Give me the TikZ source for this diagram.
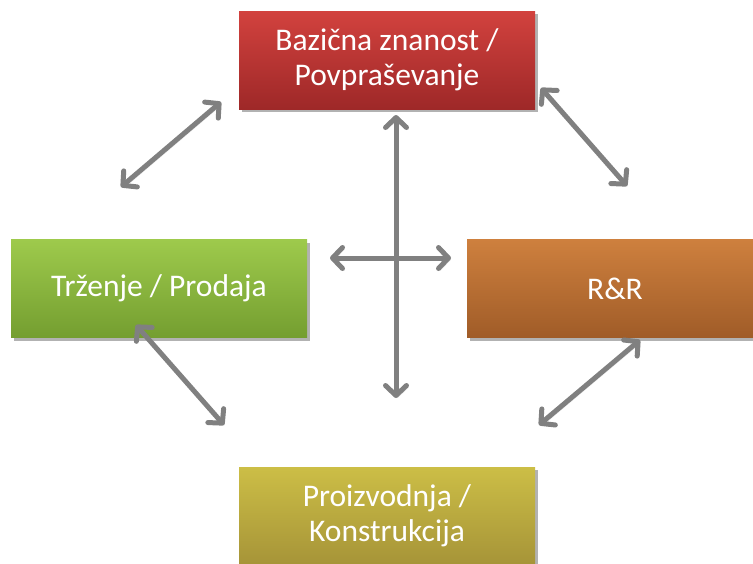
\documentclass[tikz,border=0pt]{standalone}
\usepackage{fontspec}
\setmainfont{Carlito}
\usetikzlibrary{arrows.meta,shadows}
\definecolor{arrgray}{RGB}{128,128,128}
\tikzset{
  box/.style={minimum width=296pt, minimum height=98pt, inner sep=0pt, align=center,
    text=white, font=\fontsize{31.5}{35}\selectfont, shading angle=0,
    drop shadow={shadow xshift=3pt, shadow yshift=-3pt, opacity=0.3, fill=black}},
  redbox/.style={box, top color={rgb,255:red,210;green,66;blue,62}, bottom color={rgb,255:red,158;green,40;blue,40}},
  greenbox/.style={box, top color={rgb,255:red,158;green,202;blue,76}, bottom color={rgb,255:red,116;green,158;blue,48}},
  orangebox/.style={box, top color={rgb,255:red,206;green,128;blue,62}, bottom color={rgb,255:red,160;green,92;blue,40}},
  olivebox/.style={box, top color={rgb,255:red,204;green,190;blue,70}, bottom color={rgb,255:red,166;green,148;blue,56}},
  dbl/.style={draw=arrgray, line width=5pt, line cap=round, line join=round,
    {Straight Barb[length=10pt,width=21pt,line cap=round,line join=round]}-{Straight Barb[length=10pt,width=21pt,line cap=round,line join=round]},
    preaction={draw=black!50, opacity=0.15, transform canvas={xshift=2pt,yshift=-2pt}}}
}
\begin{document}
\begin{tikzpicture}[x=1pt,y=-1pt]
\useasboundingbox (0,0) rectangle (753,563);
\clip (0,0) rectangle (753,563);
\node[redbox] (top) at (387,60) {Bazična znanost /\\Povpraševanje};
\node[greenbox] (left) at (159,288.5) {Trženje / Prodaja};
\node[orangebox] (right) at (615,288.5) {R\&R};
\node[olivebox] (bot) at (387,516) {Proizvodnja /\\Konstrukcija};
\coordinate (v1) at (396,115);
\coordinate (v2) at (396,398);
\coordinate (h1) at (330,258);
\coordinate (h2) at (451,258);
\coordinate (tl1) at (221,102);
\coordinate (tl2) at (121,187);
\coordinate (tr1) at (541,88);
\coordinate (tr2) at (627,186);
\coordinate (bl1) at (136,325);
\coordinate (bl2) at (224,425);
\coordinate (br1) at (640,340);
\coordinate (br2) at (539,425);
\draw[dbl] (v1) -- (v2);
\draw[dbl] (h1) -- (h2);
\draw[dbl] (tl1) -- (tl2);
\draw[dbl] (tr1) -- (tr2);
\draw[dbl] (bl1) -- (bl2);
\draw[dbl] (br1) -- (br2);
\end{tikzpicture}
\end{document}
